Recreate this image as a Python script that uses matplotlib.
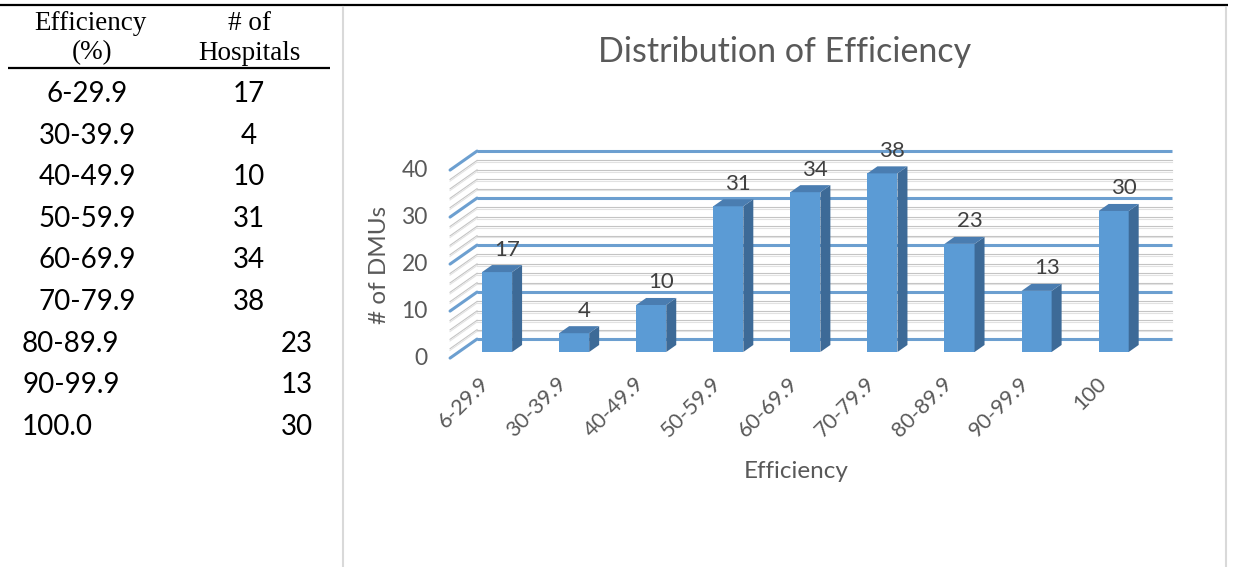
import matplotlib
matplotlib.use("Agg")
import matplotlib.pyplot as plt
from matplotlib.patches import Polygon

W, H = 1236, 567

# table contents
table_ranges = ["6-29.9", "30-39.9", "40-49.9", "50-59.9", "60-69.9",
                "70-79.9", "80-89.9", "90-99.9", "100.0"]
table_counts = [17, 4, 10, 31, 34, 38, 23, 13, 30]

# chart contents
categories = ["6-29.9", "30-39.9", "40-49.9", "50-59.9", "60-69.9",
              "70-79.9", "80-89.9", "90-99.9", "100"]
dmu_counts = [17, 4, 10, 31, 34, 38, 23, 13, 30]
y_ticks = [0, 10, 20, 30, 40]

SANS = ["Lato", "DejaVu Sans"]
SERIF = ["Liberation Serif", "DejaVu Serif"]
GREY = "#595959"

fig = plt.figure(figsize=(W / 100, H / 100), dpi=100)

# pixel-space layer for the table and frame lines
bg = fig.add_axes([0, 0, 1, 1])
bg.set_xlim(0, W)
bg.set_ylim(H, 0)
bg.axis("off")

bg.plot([0, 1228], [5, 5], color="black", lw=1.6, solid_capstyle="butt")
bg.plot([8, 330], [68, 68], color="black", lw=1.6, solid_capstyle="butt")
bg.plot([343, 343], [7, H], color="#D9D9D9", lw=1.5)
bg.plot([1226, 1226], [7, H], color="#D9D9D9", lw=1.5)

bg.text(90, 23, "Efficiency", family=SERIF, fontsize=19.5, ha="center", va="center")
bg.text(92, 53, "(%)", family=SERIF, fontsize=19.5, ha="center", va="center")
bg.text(250, 23, "# of", family=SERIF, fontsize=19.5, ha="center", va="center")
bg.text(249, 53, "Hospitals", family=SERIF, fontsize=19.5, ha="center", va="center")

for k, (r, c) in enumerate(zip(table_ranges, table_counts)):
    y = 94 + 41.6 * k
    if k < 6:
        bg.text(87, y, r, family=SANS, fontsize=20, ha="center", va="center")
        bg.text(249, y, str(c), family=SANS, fontsize=20, ha="center", va="center")
    else:
        bg.text(22, y, r, family=SANS, fontsize=20, ha="left", va="center")
        bg.text(313, y, str(c), family=SANS, fontsize=20, ha="right", va="center")

# chart area: x = category index, y = count
ax = fig.add_axes([420 / W, 1 - 370 / H, 780 / W, 240 / H])
ax.set_xlim(-1.0, 9.12)
ax.set_ylim(-3.83, 47.23)
ax.axis("off")

# oblique projection for the 3-D look
DX, DY = 0.35, 4.04          # full depth step in data units
F_FRONT, F_WALL = -0.32, 0.68
BAR_DEPTH = 0.37
BAR_HALF = 0.195
X_SIDE, X_RIGHT = -0.498, 8.517


def proj(x, v, f):
    return x + f * DX, v + f * DY


def seg(p, q, **kw):
    ax.plot([p[0], q[0]], [p[1], q[1]], **kw)


# minor gridlines (every 2 units, drawn doubled)
for v in range(2, 40, 2):
    if v % 10 == 0:
        continue
    for dv, col in ((0.0, "#C4C4C4"), (-0.35, "#E2E2E2")):
        seg(proj(X_SIDE, v + dv, F_FRONT), proj(X_SIDE, v + dv, F_WALL),
            color=col, lw=0.8, zorder=1)
        seg(proj(X_SIDE, v + dv, F_WALL), proj(X_RIGHT, v + dv, F_WALL),
            color=col, lw=0.8, zorder=1)

# major gridlines
for v in y_ticks:
    seg(proj(X_SIDE, v, F_FRONT), proj(X_SIDE, v, F_WALL),
        color="#6C9FD0", lw=2.2, zorder=2, solid_capstyle="round")
    seg(proj(X_SIDE, v, F_WALL), proj(X_RIGHT, v, F_WALL),
        color="#6C9FD0", lw=2.2, zorder=2, solid_capstyle="butt")
    ax.annotate(str(v), xy=proj(X_SIDE, v, F_FRONT), xytext=(-16, 0),
                textcoords="offset points", ha="right", va="center",
                family=SANS, fontsize=16.5, color=GREY)

# bars
for i, n in enumerate(dmu_counts):
    x0, x1 = i - BAR_HALF, i + BAR_HALF
    front = [(x0, 0), (x1, 0), (x1, n), (x0, n)]
    side = [(x1, 0), proj(x1, 0, BAR_DEPTH), proj(x1, n, BAR_DEPTH), (x1, n)]
    top = [(x0, n), (x1, n), proj(x1, n, BAR_DEPTH), proj(x0, n, BAR_DEPTH)]
    ax.add_patch(Polygon(front, closed=True, fc="#5B9BD5", ec="none", zorder=3))
    ax.add_patch(Polygon(side, closed=True, fc="#3D6A97", ec="none", zorder=3))
    ax.add_patch(Polygon(top, closed=True, fc="#4A7DB1", ec="none", zorder=3))
    ax.annotate(str(n), xy=proj(i, n, BAR_DEPTH), xytext=(0, 4),
                textcoords="offset points", ha="center", va="bottom",
                family=SANS, fontsize=16, color="#404040", zorder=4)

# rotated category labels
for i, c in enumerate(categories):
    ax.annotate(c, xy=(i, 0), xytext=(-2.5, -15.5), textcoords="offset points",
                rotation=45, ha="right", va="top",
                family=SANS, fontsize=15.5, color=GREY)

bg.text(785, 52, "Distribution of Efficiency", family=SANS, fontsize=24.5,
        color=GREY, ha="center", va="center")
bg.text(380, 265, "# of DMUs", family=SANS, fontsize=17.5, color=GREY,
        rotation=90, ha="center", va="center")
bg.text(796, 472, "Efficiency", family=SANS, fontsize=17.5, color=GREY,
        ha="center", va="center")

fig.savefig("out.png", dpi=100)
